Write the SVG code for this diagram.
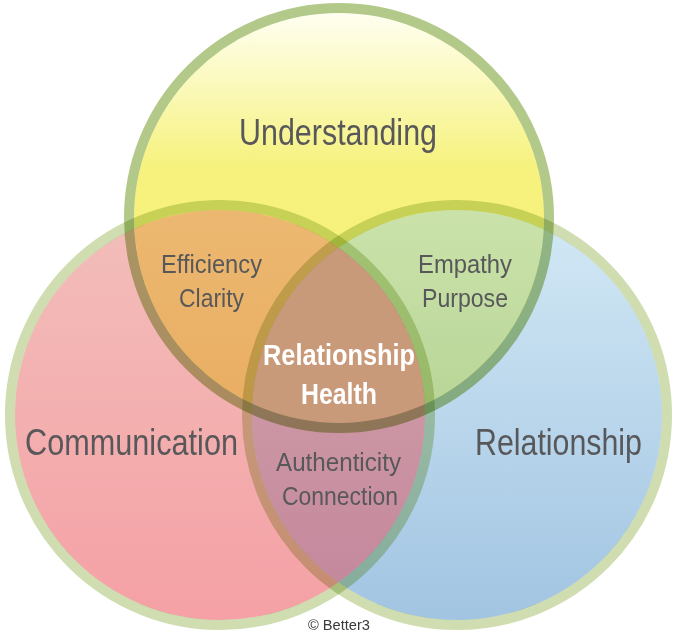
<svg xmlns="http://www.w3.org/2000/svg" width="682" height="635" viewBox="0 0 682 635">
<style>
.ring{fill:none;stroke-width:10;mix-blend-mode:multiply}
.ringT{stroke:#b3c98a}
.ringLR{stroke:#cfddb0}
.big{font-family:"Liberation Sans",Arial,sans-serif;font-size:37px;fill:#58585a;text-anchor:middle}
.mid{font-family:"Liberation Sans",Arial,sans-serif;font-size:26px;fill:#58585a;text-anchor:middle}
.ctr{font-family:"Liberation Sans",Arial,sans-serif;font-size:30px;font-weight:bold;fill:#ffffff;text-anchor:middle}
.copy{font-family:"Liberation Sans",Arial,sans-serif;font-size:14px;fill:#3a3a3a;text-anchor:middle}
</style>
<defs>
<linearGradient id="gY" gradientUnits="userSpaceOnUse" x1="0" y1="8" x2="0" y2="428">
<stop offset="0" stop-color="#fffff4"/>
<stop offset="0.38" stop-color="#f6f27d"/>
<stop offset="1" stop-color="#f5ef78"/>
</linearGradient>
<linearGradient id="gP" gradientUnits="userSpaceOnUse" x1="0" y1="205" x2="0" y2="625">
<stop offset="0" stop-color="#f2bfba"/>
<stop offset="1" stop-color="#f5a0a5"/>
</linearGradient>
<linearGradient id="gB" gradientUnits="userSpaceOnUse" x1="0" y1="205" x2="0" y2="625">
<stop offset="0" stop-color="#d3e9f5"/>
<stop offset="1" stop-color="#a1c4e2"/>
</linearGradient>
<linearGradient id="gO" gradientUnits="userSpaceOnUse" x1="0" y1="205" x2="0" y2="425">
<stop offset="0" stop-color="#ecb871"/>
<stop offset="1" stop-color="#e9ad62"/>
</linearGradient>
<linearGradient id="gG" gradientUnits="userSpaceOnUse" x1="0" y1="205" x2="0" y2="425">
<stop offset="0" stop-color="#cbe3ab"/>
<stop offset="1" stop-color="#b7d495"/>
</linearGradient>
<linearGradient id="gV" gradientUnits="userSpaceOnUse" x1="0" y1="400" x2="0" y2="625">
<stop offset="0" stop-color="#cc97a4"/>
<stop offset="1" stop-color="#c3859b"/>
</linearGradient>
<clipPath id="cT"><circle cx="339" cy="218" r="205"/></clipPath>
<clipPath id="cL"><circle cx="220" cy="415" r="205"/></clipPath>
<clipPath id="cR"><circle cx="457" cy="415" r="205"/></clipPath>
</defs>
<rect width="682" height="635" fill="#ffffff"/>
<g id="fills">
<circle cx="220" cy="415" r="205" fill="url(#gP)"/>
<circle cx="457" cy="415" r="205" fill="url(#gB)"/>
<circle cx="339" cy="218" r="205" fill="url(#gY)"/>
<circle cx="339" cy="218" r="205" fill="url(#gO)" clip-path="url(#cL)"/>
<circle cx="339" cy="218" r="205" fill="url(#gG)" clip-path="url(#cR)"/>
<circle cx="220" cy="415" r="205" fill="url(#gV)" clip-path="url(#cR)"/>
<g clip-path="url(#cL)"><circle cx="339" cy="218" r="205" fill="#c89a79" clip-path="url(#cR)"/></g>
</g>
<g id="node-understanding">
<circle class="ring ringT" cx="339" cy="218" r="210"/>
<text class="big" x="338" y="145" textLength="198" lengthAdjust="spacingAndGlyphs">Understanding</text>
</g>
<g id="node-communication">
<circle class="ring ringLR" cx="220" cy="415" r="210"/>
<text class="big" x="131.5" y="455" textLength="213" lengthAdjust="spacingAndGlyphs">Communication</text>
</g>
<g id="node-relationship">
<circle class="ring ringLR" cx="457" cy="415" r="210"/>
<text class="big" x="558.5" y="455" textLength="167" lengthAdjust="spacingAndGlyphs">Relationship</text>
</g>
<g id="overlap-understanding-communication">
<text class="mid" x="211.5" y="273" textLength="101" lengthAdjust="spacingAndGlyphs">Efficiency</text>
<text class="mid" x="211.5" y="307" textLength="65" lengthAdjust="spacingAndGlyphs">Clarity</text>
</g>
<g id="overlap-understanding-relationship">
<text class="mid" x="465" y="273" textLength="94" lengthAdjust="spacingAndGlyphs">Empathy</text>
<text class="mid" x="465" y="307" textLength="86" lengthAdjust="spacingAndGlyphs">Purpose</text>
</g>
<g id="overlap-communication-relationship">
<text class="mid" x="338.5" y="471" textLength="125" lengthAdjust="spacingAndGlyphs">Authenticity</text>
<text class="mid" x="340" y="505" textLength="116" lengthAdjust="spacingAndGlyphs">Connection</text>
</g>
<g id="center">
<text class="ctr" x="339" y="365" textLength="152" lengthAdjust="spacingAndGlyphs">Relationship</text>
<text class="ctr" x="339" y="404" textLength="76" lengthAdjust="spacingAndGlyphs">Health</text>
</g>
<text class="copy" x="339" y="630" textLength="62" lengthAdjust="spacingAndGlyphs">© Better3</text>
</svg>
